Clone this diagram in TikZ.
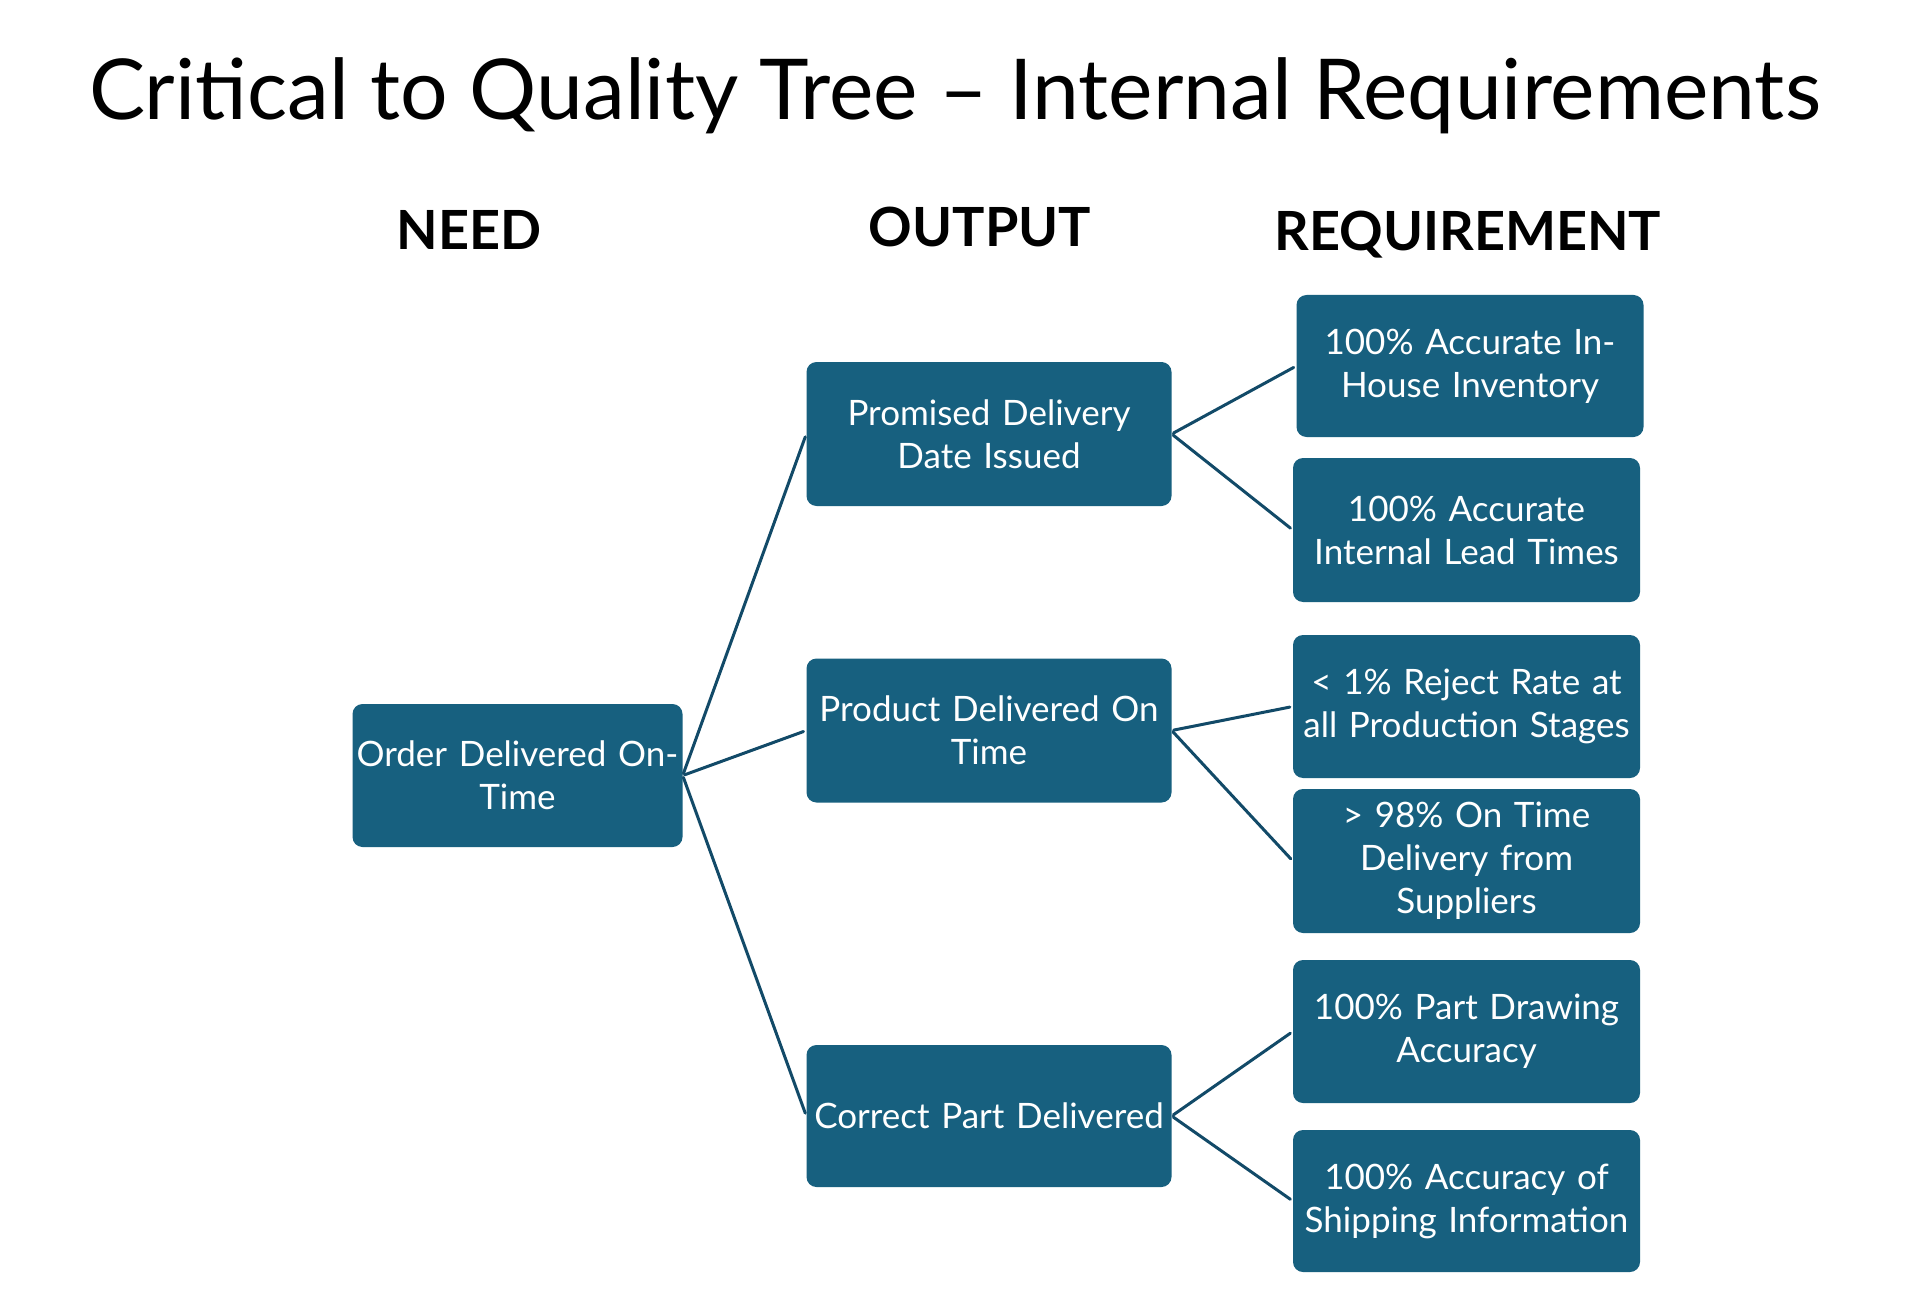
\documentclass[tikz,border=0pt]{standalone}
\usepackage{fontspec}
\setmainfont{Lato}
\definecolor{boxblue}{HTML}{17607F}
\definecolor{linecol}{HTML}{124A68}
\begin{document}
\begin{tikzpicture}[x=1pt,y=-1pt,
  ctqbox/.style={rectangle, rounded corners=10pt, fill=boxblue, text=white, align=center,
    inner sep=0pt, font=\fontsize{35}{43}\selectfont},
  outbox/.style={ctqbox, minimum width=365pt, minimum height=144pt, text width=360pt},
  reqbox/.style={ctqbox, minimum width=347pt, minimum height=143pt, text width=343pt},
  conn/.style={draw=linecol, line width=3pt, line cap=round, shorten <=2pt, shorten >=3pt},
  hdr/.style={font=\fontsize{54}{60}\selectfont\bfseries, anchor=base}
]
\useasboundingbox (0,0) rectangle (1920,1297);
\fill[white] (0,0) rectangle (1920,1297);

\node[anchor=base, font=\fontsize{84}{96}\selectfont] (title) at (955,120) {Critical to Quality Tree -- Internal Requirements};

\node[hdr] (hneed) at (469,250) {NEED};
\node[hdr] (hout) at (980,247) {OUTPUT};
\node[hdr] (hreq) at (1468,251) {REQUIREMENT};

\node[ctqbox, minimum width=330pt, minimum height=143pt, text width=327pt] (order) at (517.5,775.5) {Order Delivered On-\\Time};

\node[outbox] (prom) at (989,434) {Promised Delivery\\Date Issued};
\node[outbox] (prod) at (989,730.5) {Product Delivered On\\Time};
\node[outbox, minimum height=142pt] (corr) at (989,1116) {Correct Part Delivered};

\node[reqbox, minimum height=142pt] (inhouse) at (1470,366) {100\% Accurate In-\\House Inventory};
\node[reqbox, minimum height=144pt] (lead) at (1466.5,530) {100\% Accurate\\Internal Lead Times};
\node[reqbox] (reject) at (1466.5,706.5) {< 1\% Reject Rate at\\all Production Stages};
\node[reqbox, minimum height=144pt] (supp) at (1466.5,861) {> 98\% On Time\\Delivery from\\Suppliers};
\node[reqbox] (draw) at (1466.5,1031.5) {100\% Part Drawing\\Accuracy};
\node[reqbox, minimum height=142pt] (ship) at (1466.5,1201) {100\% Accuracy of\\Shipping Information};

\draw[conn] (order.east) -- (prom.west);
\draw[conn] (order.east) -- (prod.west);
\draw[conn] (order.east) -- (corr.west);
\draw[conn] (prom.east) -- (inhouse.west);
\draw[conn] (prom.east) -- (lead.west);
\draw[conn] (prod.east) -- (reject.west);
\draw[conn] (prod.east) -- (supp.west);
\draw[conn] (corr.east) -- (draw.west);
\draw[conn] (corr.east) -- (ship.west);
\end{tikzpicture}
\end{document}
